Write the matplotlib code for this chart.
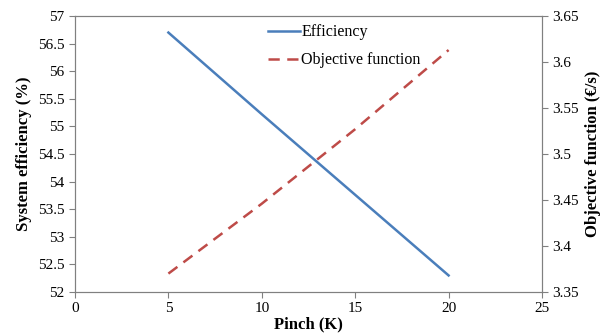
import matplotlib
matplotlib.use("Agg")
import matplotlib.pyplot as plt

pinch = [5, 10, 15, 20]
efficiency = [56.7, 55.22, 53.76, 52.3]
objective = [3.370, 3.446, 3.527, 3.613]

plt.rcParams['font.family'] = ['Liberation Serif']
fig = plt.figure(figsize=(6.11, 3.34), dpi=100)
ax = fig.add_axes([75/611, 42/334, 467/611, 276/334])
ax2 = ax.twinx()

l1, = ax.plot(pinch, efficiency, color='#4a7ebb', lw=1.8, label='Efficiency')
l2, = ax2.plot(pinch, objective, color='#be4b48', lw=1.8, ls=(0, (4.5, 3)), label='Objective function')

ax.set_xlim(0, 25)
ax.set_ylim(52, 57)
ax2.set_ylim(3.35, 3.65)
ax.set_xticks([0, 5, 10, 15, 20, 25])
ax.set_yticks([52, 52.5, 53, 53.5, 54, 54.5, 55, 55.5, 56, 56.5, 57])
ax.set_yticklabels(['52', '52.5', '53', '53.5', '54', '54.5', '55', '55.5', '56', '56.5', '57'])
ax2.set_yticks([3.35, 3.4, 3.45, 3.5, 3.55, 3.6, 3.65])
ax2.set_yticklabels(['3.35', '3.4', '3.45', '3.5', '3.55', '3.6', '3.65'])

for a in (ax, ax2):
    a.tick_params(labelsize=11, direction='out', length=4, color='#808080', width=0.8)
    for s in a.spines.values():
        s.set_color('#808080')
        s.set_linewidth(0.8)

ax.set_xlabel('Pinch (K)', fontsize=12, fontweight='bold', labelpad=1)
ax.set_ylabel('System efficiency (%)', fontsize=12, fontweight='bold', labelpad=4)
ax2.set_ylabel('Objective function (€/s)', fontsize=12, fontweight='bold', labelpad=4)

ax.legend([l1, l2], ['Efficiency', 'Objective function'], loc='upper left',
          bbox_to_anchor=(0.413, 0.97), frameon=False, fontsize=11.5,
          handlelength=2.0, handletextpad=0.1, labelspacing=0.75,
          borderpad=0, borderaxespad=0)

fig.savefig('out.png', dpi=100)
